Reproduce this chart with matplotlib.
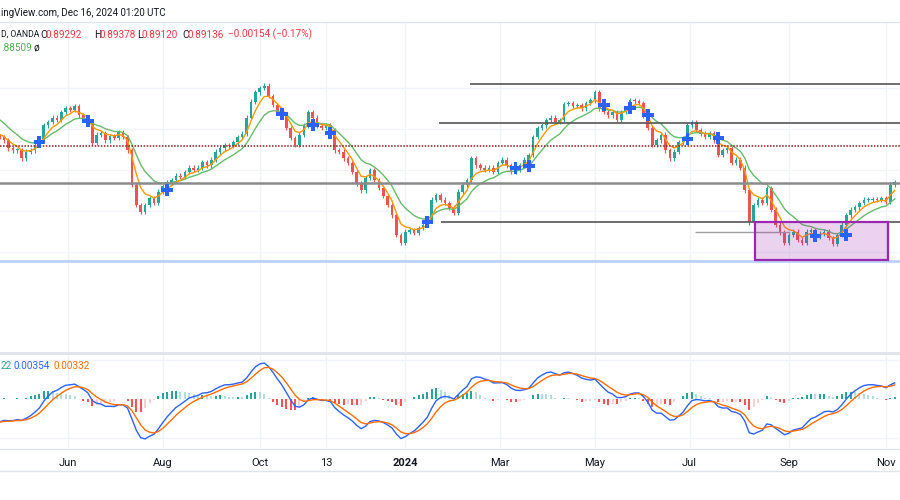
import numpy as np
import pandas as pd
import matplotlib
matplotlib.use("Agg")
import matplotlib.pyplot as plt
from matplotlib.patches import Rectangle

# one candle every 2 business days
closes = [
    0.8961, 0.8946, 0.8907, 0.8897, 0.8897, 0.8858, 0.8888, 0.8897, 0.8922, 0.8946,
    0.9019, 0.9034, 0.9054, 0.9044, 0.9083, 0.9102, 0.9093, 0.9112, 0.9068, 0.9054,
    0.9034, 0.8932, 0.8971, 0.8980, 0.8946, 0.8966, 0.8956, 0.8985, 0.8961, 0.8897,
    0.8727, 0.8629, 0.8595, 0.8629, 0.8663, 0.8639, 0.8693, 0.8722, 0.8741, 0.8751,
    0.8771, 0.8766, 0.8790, 0.8810, 0.8800, 0.8810, 0.8839, 0.8824, 0.8849, 0.8888,
    0.8907, 0.8922, 0.8917, 0.8936, 0.8961, 0.8976, 0.9054, 0.9132, 0.9180, 0.9200,
    0.9210, 0.9161, 0.9117, 0.9083, 0.9063, 0.9005, 0.8956, 0.8922, 0.8971, 0.9019,
    0.9083, 0.9054, 0.9015, 0.9005, 0.9019, 0.8995, 0.8897, 0.8888, 0.8858, 0.8834,
    0.8790, 0.8732, 0.8702, 0.8761, 0.8800, 0.8751, 0.8712, 0.8673, 0.8629, 0.8580,
    0.8483, 0.8444, 0.8498, 0.8507, 0.8493, 0.8517, 0.8532, 0.8556, 0.8654, 0.8678,
    0.8654, 0.8639, 0.8615, 0.8590, 0.8693, 0.8727, 0.8751, 0.8858, 0.8824, 0.8810,
    0.8800, 0.8810, 0.8790, 0.8834, 0.8849, 0.8824, 0.8790, 0.8800, 0.8824, 0.8849,
    0.8873, 0.8961, 0.9005, 0.9019, 0.9044, 0.9054, 0.9034, 0.9044, 0.9122, 0.9127,
    0.9112, 0.9117, 0.9102, 0.9127, 0.9141, 0.9180, 0.9102, 0.9083, 0.9068, 0.9083,
    0.9044, 0.9083, 0.9102, 0.9141, 0.9136, 0.9127, 0.9068, 0.9005, 0.8922, 0.8946,
    0.8971, 0.8897, 0.8858, 0.8888, 0.8936, 0.8956, 0.9019, 0.9034, 0.8995, 0.8976,
    0.8961, 0.8980, 0.8946, 0.8873, 0.8897, 0.8907, 0.8834, 0.8849, 0.8810, 0.8702,
    0.8546, 0.8629, 0.8654, 0.8639, 0.8712, 0.8605, 0.8532, 0.8493, 0.8444, 0.8483,
    0.8498, 0.8459, 0.8444, 0.8498, 0.8507, 0.8473, 0.8488, 0.8498, 0.8468, 0.8439,
    0.8483, 0.8532, 0.8580, 0.8605, 0.8619, 0.8639, 0.8654, 0.8654, 0.8658, 0.8654,
    0.8663, 0.8644, 0.8727, 0.8741,
]
first_open = 0.8966

# starting values of the averages at the left edge
fast_ma_start = 0.8980
slow_ma_start = 0.9063
macd_fast_start = 0.8985
macd_slow_start = 0.9050
macd_signal_start = -0.0060

# blue "+" signals: bar index, price
signal_bars = [9, 20, 38, 64, 71, 75, 97, 117, 120, 137, 143, 147, 156, 163, 185, 192]
signal_prices = [0.8936, 0.9039, 0.8702, 0.9073, 0.9019, 0.8980, 0.8546, 0.8810,
                 0.8819, 0.9117, 0.9102, 0.9068, 0.8951, 0.8956, 0.8478, 0.8483]

# drawn levels: price, first bar
ray_prices = [0.9220, 0.9029, 0.8546]
ray_starts = [106.7, 99.6, 100.1]
dotted_level = 0.8917
gray_level = 0.8736
blue_level = 0.8356
short_level = 0.8497
short_span = [157.7, 179.2]
box_bars = [171.3, 201.4]
box_prices = [0.8361, 0.8546]

tick_dates = ["2023-06-01", "2023-08-01", "2023-10-02", "2023-11-13", "2024-01-02",
              "2024-03-01", "2024-05-01", "2024-07-01", "2024-09-02", "2024-11-01"]
tick_labels = ["Jun", "Aug", "Oct", "13", "2024", "Mar", "May", "Jul", "Sep", "Nov"]

plt.rcParams['font.family'] = ['Roboto', 'DejaVu Sans']

days = pd.bdate_range("2023-04-19", "2024-11-08")
c = np.array(closes)
o = np.array([first_open] + closes[:-1])
x = np.arange(len(c))


def ema(values, alpha, start):
    out = []
    prev = start
    for v in values:
        prev = prev + alpha * (v - prev)
        out.append(prev)
    return np.array(out)


def alpha2(span):
    # daily span converted to a two-day bar
    a = 2 / (span + 1)
    return 1 - (1 - a) ** 2


fast_ma = ema(c, alpha2(9), fast_ma_start)
slow_ma = ema(c, alpha2(21), slow_ma_start)
macd = ema(c, alpha2(12), macd_fast_start) - ema(c, alpha2(26), macd_slow_start)
signal = ema(macd, alpha2(9), macd_signal_start)
hist = macd - signal

W, H = 900, 500
fig = plt.figure(figsize=(9, 5), dpi=100)
fig.patch.set_facecolor('white')


def fy(py):
    return 1 - py / H


ax = fig.add_axes([0, fy(352), 1, (352 - 22) / H])
axm = fig.add_axes([0, fy(448), 1, (448 - 353) / H], sharex=ax)

xlim = (0.08, 204.2)
ticks = [days.searchsorted(pd.Timestamp(d)) / 2 for d in tick_dates]

# price pane
for a in (ax, axm):
    for s in a.spines.values():
        s.set_visible(False)
    for t in ticks:
        a.axvline(t, color='#f0f3fa', lw=1, zorder=0)

for g in [0.84, 0.86, 0.88, 0.90, 0.92]:
    ax.axhline(g, color='#f0f3fa', lw=1, zorder=0)

up = c >= o
cols = np.where(up, '#26a69a', '#ef5350')
lo = np.minimum(o, c)
hi = np.maximum(o, c)
wick = 0.0012
ax.vlines(x, lo - wick, hi + wick, colors=cols, lw=0.8, zorder=2)
ax.bar(x, np.maximum(hi - lo, 0.0003), bottom=lo, width=0.6, color=cols, zorder=3)

ax.plot(x, slow_ma, color='#66bb6a', lw=1.0, zorder=4)
ax.plot(x, fast_ma, color='#ff9800', lw=1.0, zorder=4)

ax.axhline(dotted_level, color='#7b1f1f', lw=1.1, ls=(0, (1, 1)), zorder=5)
ax.axhline(gray_level, color='#8a8a8a', lw=1.8, zorder=5)
ax.axhline(blue_level, color='#bbd2f7', lw=2.0, zorder=5)
for p, s in zip(ray_prices, ray_starts):
    ax.hlines(p, s, xlim[1], color='#555555', lw=1.2, zorder=5)
ax.hlines(short_level, short_span[0], short_span[1], color='#a0a0a0', lw=1.0, zorder=5)
ax.add_patch(Rectangle((box_bars[0], box_prices[0]), box_bars[1] - box_bars[0],
                       box_prices[1] - box_prices[0], facecolor=(0.61, 0.15, 0.69, 0.2),
                       edgecolor='#9c27b0', lw=1.6, zorder=6))

ax.scatter(signal_bars, signal_prices, marker='P', s=70, color='#2962ff',
           edgecolors='none', zorder=7)

ax.set_xlim(*xlim)
ax.set_ylim(0.7912, 0.9522)
ax.set_yticks([])
ax.tick_params(axis='x', bottom=False, labelbottom=False)

# macd pane
scale = macd.max() / 36
axm.set_ylim(-49 * scale, 46 * scale)
for g in (-39 * scale, 39 * scale):
    axm.axhline(g, color='#f0f3fa', lw=1, zorder=0)
hcols = []
prev = 0
for h in hist:
    if h >= 0:
        hcols.append('#26a69a' if h > prev else '#b2dfdb')
    else:
        hcols.append('#ff5252' if h < prev else '#ffcdd2')
    prev = h
axm.bar(x, hist, width=0.45, color=hcols, zorder=2)
axm.plot(x, macd, color='#2962ff', lw=1.0, zorder=3)
axm.plot(x, signal, color='#ff6d00', lw=1.0, zorder=3)
axm.set_yticks([])
axm.set_xticks(ticks)
axm.set_xticklabels(tick_labels, fontsize=8, color='#131722')
for lab in axm.get_xticklabels():
    if lab.get_text() == '2024':
        lab.set_fontweight('bold')
axm.tick_params(axis='x', length=0, pad=7)

# frame lines
fig.add_artist(plt.Line2D([0, 1], [fy(22), fy(22)], color='#e0e3eb', lw=1))
fig.add_artist(plt.Line2D([0, 1], [fy(352.5), fy(352.5)], color='#e0e3eb', lw=2))
fig.add_artist(plt.Line2D([0, 1], [fy(448.5), fy(448.5)], color='#e0e3eb', lw=1))
fig.add_artist(plt.Line2D([0, 1], [fy(471), fy(471)], color='#e0e3eb', lw=1))

# texts
fs = 7.2
dark = '#131722'
red = '#f23645'
fig.text(1 / W, fy(12.5), "ingView.com, Dec 16, 2024 01:20 UTC", fontsize=7, color=dark, va='center')
y1 = fy(34.5)
fig.text(1 / W, y1, "D, OANDA", fontsize=6.2, color=dark, va='center')
fig.text(40 / W, y1, "O", fontsize=fs, color=dark, va='center')
fig.text(46 / W, y1, "0.89292", fontsize=fs, color=red, va='center')
fig.text(94 / W, y1, "H", fontsize=fs, color=dark, va='center')
fig.text(100 / W, y1, "0.89378", fontsize=fs, color=red, va='center')
fig.text(137 / W, y1, "L", fontsize=fs, color=dark, va='center')
fig.text(142 / W, y1, "0.89120", fontsize=fs, color=red, va='center')
fig.text(182 / W, y1, "C", fontsize=fs, color=dark, va='center')
fig.text(188 / W, y1, "0.89136", fontsize=fs, color=red, va='center')
fig.text(228 / W, y1, "\u22120.00154 (\u22120.17%)", fontsize=fs, color=red, va='center')
y2 = fy(48)
fig.text(1 / W, y2, ".88509", fontsize=fs, color='#4caf50', va='center')
fig.text(33 / W, y2, "\u00f8", fontsize=fs, color=dark, va='center')
y3 = fy(366)
fig.text(1 / W, y3, "22", fontsize=fs, color='#26a69a', va='center')
fig.text(13 / W, y3, "0.00354", fontsize=fs, color='#2962ff', va='center')
fig.text(53 / W, y3, "0.00332", fontsize=fs, color='#ff6d00', va='center')

fig.savefig("out.png", dpi=100, facecolor='white')
